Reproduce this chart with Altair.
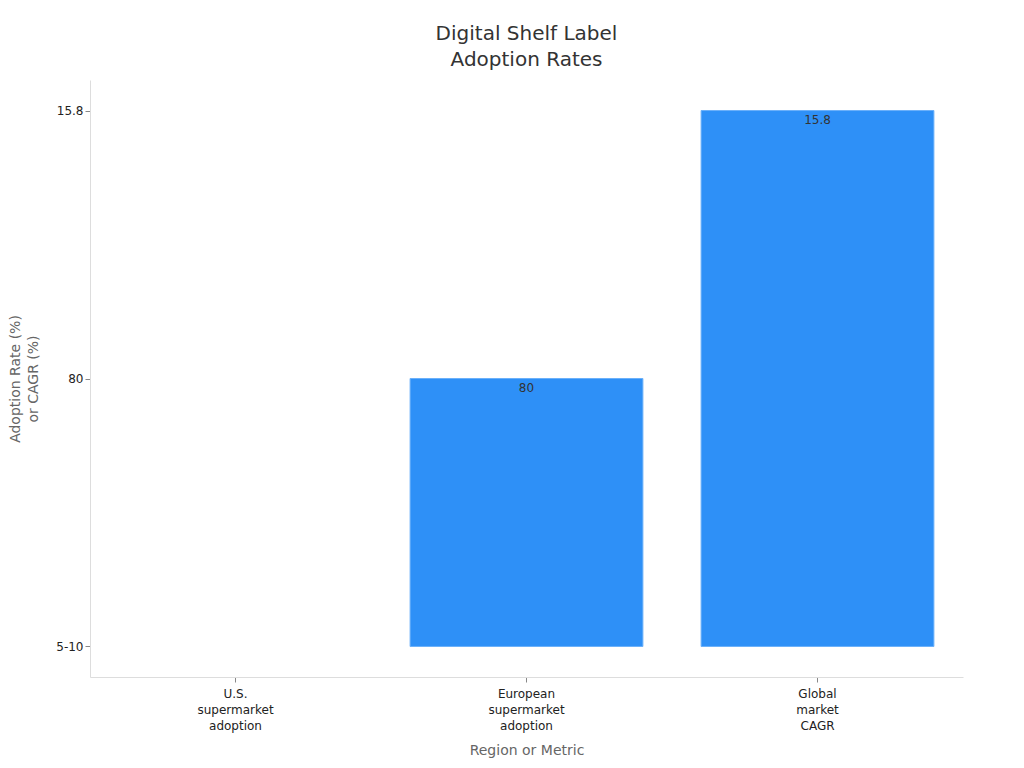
import altair as alt
import pandas as pd

categories = ["U.S. supermarket adoption", "European supermarket adoption", "Global market CAGR"]
values = ["5-10", "80", "15.8"]
y_order = ["5-10", "80", "15.8"]

df = pd.DataFrame({"category": categories, "value": values})

FONT = "DejaVu Sans"

x_enc = alt.X(
    "category:N",
    sort=categories,
    title="Region or Metric",
    scale=alt.Scale(paddingInner=0.2, paddingOuter=0.1),
    axis=alt.Axis(
        labelAngle=0,
        labelExpr="split(datum.label, ' ')",
        labelFontSize=12,
        labelLineHeight=16,
        labelColor="#222",
        titleFontSize=14,
        titleColor="#666",
        titleFontWeight="normal",
        titlePadding=12,
        domainColor="#ddd",
        tickColor="#888",
        labelPadding=6,
    ),
)

y_enc = alt.Y(
    "value:O",
    sort=y_order,
    title=["Adoption Rate (%)", "or CAGR (%)"],
    scale=alt.Scale(type="point", domain=y_order, padding=0.114, reverse=True),
    axis=alt.Axis(
        grid=False,
        labelFontSize=12,
        labelColor="#222",
        titleFontSize=14,
        titleLineHeight=18,
        titleColor="#666",
        titleFontWeight="normal",
        domainColor="#ddd",
        tickColor="#888",
        titlePadding=15,
    ),
)

base = alt.Chart(df)

bars = base.mark_bar(color="#2e90f7", stroke="#6ab0fa", strokeWidth=1).encode(
    x=x_enc,
    y=y_enc,
    y2=alt.Y2(datum="5-10"),
    strokeOpacity=alt.condition(alt.datum.value == "5-10", alt.value(0), alt.value(1)),
)

labels = base.transform_filter(alt.datum.value != "5-10").mark_text(
    baseline="top", dy=4, fontSize=12, color="#333", font=FONT
).encode(
    x=alt.X("category:N", sort=categories),
    y=alt.Y("value:O", sort=y_order),
    text="value:N",
)

chart = (
    alt.layer(bars, labels)
    .properties(
        width=873,
        height=597,
        padding={"left": 0, "top": 16, "right": 5, "bottom": 5},
        title=alt.TitleParams(
            text=["Digital Shelf Label", "Adoption Rates"],
            fontSize=20,
            lineHeight=26,
            font=FONT,
            color="#333",
            fontWeight="normal",
            anchor="middle",
            offset=10,
        ),
    )
    .configure(font=FONT)
    .configure_view(stroke=None)
)

chart.save("out.html", embed_options={"renderer": "svg", "actions": False})
